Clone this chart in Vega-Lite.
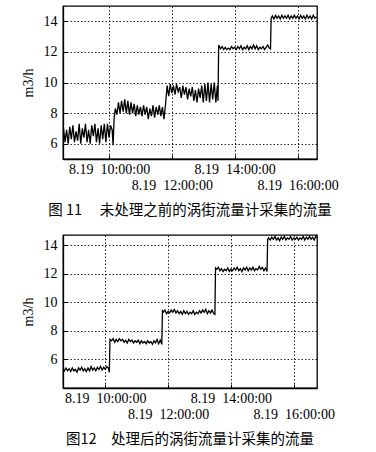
{
  "$schema": "https://vega.github.io/schema/vega-lite/v6.json",
  "background": "white",
  "padding": {"left": 20, "top": 5, "right": 5, "bottom": 5},
  "spacing": 15,
  "datasets": {
    "raw": [
      {"t": 8.54, "v": 7.2}, {"t": 8.6, "v": 6.1}, {"t": 8.65, "v": 6.9}, {"t": 8.7, "v": 6.0}, {"t": 8.75, "v": 7.1}, {"t": 8.8, "v": 6.3}, {"t": 8.85, "v": 7.2}, {"t": 8.9, "v": 6.1}, {"t": 8.95, "v": 6.8}, {"t": 9.0, "v": 6.2}, {"t": 9.05, "v": 7.3}, {"t": 9.1, "v": 6.0}, {"t": 9.15, "v": 7.0}, {"t": 9.2, "v": 6.4}, {"t": 9.25, "v": 7.3}, {"t": 9.3, "v": 6.1}, {"t": 9.35, "v": 6.9}, {"t": 9.4, "v": 6.0}, {"t": 9.45, "v": 7.2}, {"t": 9.5, "v": 6.5}, {"t": 9.55, "v": 7.3}, {"t": 9.6, "v": 6.1}, {"t": 9.65, "v": 7.0}, {"t": 9.7, "v": 6.0}, {"t": 9.75, "v": 7.2}, {"t": 9.8, "v": 6.3}, {"t": 9.85, "v": 7.3}, {"t": 9.9, "v": 6.1}, {"t": 9.95, "v": 7.3}, {"t": 10.0, "v": 6.4}, {"t": 10.05, "v": 7.2}, {"t": 10.1, "v": 6.9}, {"t": 10.13, "v": 5.9}, {"t": 10.16, "v": 7.6},
      {"t": 10.2, "v": 8.3}, {"t": 10.25, "v": 7.9}, {"t": 10.3, "v": 8.7}, {"t": 10.35, "v": 8.0}, {"t": 10.4, "v": 8.8}, {"t": 10.45, "v": 8.1}, {"t": 10.5, "v": 8.9}, {"t": 10.55, "v": 8.0}, {"t": 10.6, "v": 8.8}, {"t": 10.65, "v": 7.9}, {"t": 10.7, "v": 8.7}, {"t": 10.75, "v": 8.0}, {"t": 10.8, "v": 8.6}, {"t": 10.85, "v": 7.8}, {"t": 10.9, "v": 8.5}, {"t": 10.95, "v": 7.9}, {"t": 11.0, "v": 8.4}, {"t": 11.05, "v": 7.8}, {"t": 11.1, "v": 8.5}, {"t": 11.15, "v": 7.9}, {"t": 11.2, "v": 8.4}, {"t": 11.25, "v": 7.6}, {"t": 11.3, "v": 8.3}, {"t": 11.35, "v": 7.8}, {"t": 11.4, "v": 8.5}, {"t": 11.45, "v": 7.7}, {"t": 11.5, "v": 8.4}, {"t": 11.55, "v": 7.9}, {"t": 11.6, "v": 8.5}, {"t": 11.65, "v": 7.8}, {"t": 11.7, "v": 8.4}, {"t": 11.75, "v": 7.6}, {"t": 11.8, "v": 8.6},
      {"t": 11.85, "v": 9.8}, {"t": 11.9, "v": 9.1}, {"t": 11.95, "v": 9.9}, {"t": 12.0, "v": 9.3}, {"t": 12.05, "v": 9.8}, {"t": 12.1, "v": 9.2}, {"t": 12.15, "v": 9.9}, {"t": 12.2, "v": 9.4}, {"t": 12.25, "v": 9.7}, {"t": 12.3, "v": 9.0}, {"t": 12.35, "v": 9.8}, {"t": 12.4, "v": 9.2}, {"t": 12.45, "v": 9.7}, {"t": 12.5, "v": 8.9}, {"t": 12.55, "v": 9.6}, {"t": 12.6, "v": 9.1}, {"t": 12.65, "v": 9.7}, {"t": 12.7, "v": 8.8}, {"t": 12.75, "v": 9.5}, {"t": 12.8, "v": 8.7}, {"t": 12.85, "v": 9.6}, {"t": 12.9, "v": 9.0}, {"t": 12.95, "v": 9.8}, {"t": 13.0, "v": 8.7}, {"t": 13.05, "v": 9.9}, {"t": 13.1, "v": 8.8}, {"t": 13.15, "v": 10.0}, {"t": 13.2, "v": 8.7}, {"t": 13.25, "v": 9.9}, {"t": 13.3, "v": 8.9}, {"t": 13.35, "v": 10.0}, {"t": 13.4, "v": 8.7}, {"t": 13.45, "v": 9.8}, {"t": 13.47, "v": 8.8},
      {"t": 13.49, "v": 12.45}, {"t": 13.55, "v": 12.2}, {"t": 13.6, "v": 12.35}, {"t": 13.65, "v": 12.15}, {"t": 13.7, "v": 12.3}, {"t": 13.75, "v": 12.15}, {"t": 13.8, "v": 12.25}, {"t": 13.85, "v": 12.15}, {"t": 13.9, "v": 12.35}, {"t": 13.95, "v": 12.2}, {"t": 14.0, "v": 12.3}, {"t": 14.05, "v": 12.15}, {"t": 14.1, "v": 12.35}, {"t": 14.15, "v": 12.2}, {"t": 14.2, "v": 12.4}, {"t": 14.25, "v": 12.15}, {"t": 14.3, "v": 12.3}, {"t": 14.35, "v": 12.2}, {"t": 14.4, "v": 12.4}, {"t": 14.45, "v": 12.15}, {"t": 14.5, "v": 12.35}, {"t": 14.55, "v": 12.2}, {"t": 14.6, "v": 12.45}, {"t": 14.65, "v": 12.2}, {"t": 14.7, "v": 12.4}, {"t": 14.75, "v": 12.15}, {"t": 14.8, "v": 12.3}, {"t": 14.85, "v": 12.2}, {"t": 14.9, "v": 12.35}, {"t": 14.95, "v": 12.15}, {"t": 15.0, "v": 12.3}, {"t": 15.05, "v": 12.45}, {"t": 15.1, "v": 12.25}, {"t": 15.14, "v": 12.2},
      {"t": 15.16, "v": 14.2}, {"t": 15.2, "v": 14.35}, {"t": 15.25, "v": 14.15}, {"t": 15.3, "v": 14.4}, {"t": 15.35, "v": 14.2}, {"t": 15.4, "v": 14.35}, {"t": 15.45, "v": 14.15}, {"t": 15.5, "v": 14.4}, {"t": 15.55, "v": 14.2}, {"t": 15.6, "v": 14.35}, {"t": 15.65, "v": 14.2}, {"t": 15.7, "v": 14.4}, {"t": 15.75, "v": 14.15}, {"t": 15.8, "v": 14.35}, {"t": 15.85, "v": 14.2}, {"t": 15.9, "v": 14.4}, {"t": 15.95, "v": 14.2}, {"t": 16.0, "v": 14.35}, {"t": 16.05, "v": 14.15}, {"t": 16.1, "v": 14.4}, {"t": 16.15, "v": 14.2}, {"t": 16.2, "v": 14.35}, {"t": 16.25, "v": 14.15}, {"t": 16.3, "v": 14.4}, {"t": 16.35, "v": 14.2}, {"t": 16.4, "v": 14.35}, {"t": 16.45, "v": 14.15}, {"t": 16.5, "v": 14.4}, {"t": 16.55, "v": 14.2}, {"t": 16.61, "v": 14.3}
    ],
    "processed": [
      {"t": 8.67, "v": 5.3}, {"t": 8.7, "v": 5.2}, {"t": 8.75, "v": 5.4}, {"t": 8.8, "v": 5.2}, {"t": 8.85, "v": 5.35}, {"t": 8.9, "v": 5.15}, {"t": 8.95, "v": 5.4}, {"t": 9.0, "v": 5.2}, {"t": 9.05, "v": 5.3}, {"t": 9.1, "v": 5.1}, {"t": 9.15, "v": 5.4}, {"t": 9.2, "v": 5.25}, {"t": 9.25, "v": 5.45}, {"t": 9.3, "v": 5.2}, {"t": 9.35, "v": 5.35}, {"t": 9.4, "v": 5.15}, {"t": 9.45, "v": 5.4}, {"t": 9.5, "v": 5.2}, {"t": 9.55, "v": 5.5}, {"t": 9.6, "v": 5.25}, {"t": 9.65, "v": 5.4}, {"t": 9.7, "v": 5.2}, {"t": 9.75, "v": 5.45}, {"t": 9.8, "v": 5.3}, {"t": 9.85, "v": 5.5}, {"t": 9.9, "v": 5.25}, {"t": 9.95, "v": 5.45}, {"t": 10.0, "v": 5.3}, {"t": 10.05, "v": 5.5}, {"t": 10.1, "v": 5.4}, {"t": 10.13, "v": 5.1},
      {"t": 10.15, "v": 7.4}, {"t": 10.2, "v": 7.3}, {"t": 10.25, "v": 7.45}, {"t": 10.3, "v": 7.2}, {"t": 10.35, "v": 7.4}, {"t": 10.4, "v": 7.25}, {"t": 10.45, "v": 7.45}, {"t": 10.5, "v": 7.3}, {"t": 10.55, "v": 7.4}, {"t": 10.6, "v": 7.2}, {"t": 10.65, "v": 7.35}, {"t": 10.7, "v": 7.15}, {"t": 10.75, "v": 7.4}, {"t": 10.8, "v": 7.25}, {"t": 10.85, "v": 7.35}, {"t": 10.9, "v": 7.15}, {"t": 10.95, "v": 7.3}, {"t": 11.0, "v": 7.2}, {"t": 11.05, "v": 7.35}, {"t": 11.1, "v": 7.1}, {"t": 11.15, "v": 7.3}, {"t": 11.2, "v": 7.15}, {"t": 11.25, "v": 7.25}, {"t": 11.3, "v": 7.1}, {"t": 11.35, "v": 7.3}, {"t": 11.4, "v": 7.15}, {"t": 11.45, "v": 7.25}, {"t": 11.5, "v": 7.05}, {"t": 11.55, "v": 7.3}, {"t": 11.6, "v": 7.15}, {"t": 11.65, "v": 7.4}, {"t": 11.7, "v": 7.1}, {"t": 11.75, "v": 7.35}, {"t": 11.8, "v": 7.05},
      {"t": 11.82, "v": 9.4}, {"t": 11.85, "v": 9.3}, {"t": 11.9, "v": 9.45}, {"t": 11.95, "v": 9.2}, {"t": 12.0, "v": 9.35}, {"t": 12.05, "v": 9.25}, {"t": 12.1, "v": 9.45}, {"t": 12.15, "v": 9.3}, {"t": 12.2, "v": 9.5}, {"t": 12.25, "v": 9.25}, {"t": 12.3, "v": 9.4}, {"t": 12.35, "v": 9.2}, {"t": 12.4, "v": 9.35}, {"t": 12.45, "v": 9.15}, {"t": 12.5, "v": 9.4}, {"t": 12.55, "v": 9.2}, {"t": 12.6, "v": 9.35}, {"t": 12.65, "v": 9.15}, {"t": 12.7, "v": 9.3}, {"t": 12.75, "v": 9.2}, {"t": 12.8, "v": 9.4}, {"t": 12.85, "v": 9.15}, {"t": 12.9, "v": 9.3}, {"t": 12.95, "v": 9.2}, {"t": 13.0, "v": 9.4}, {"t": 13.05, "v": 9.25}, {"t": 13.1, "v": 9.45}, {"t": 13.15, "v": 9.3}, {"t": 13.2, "v": 9.5}, {"t": 13.25, "v": 9.2}, {"t": 13.3, "v": 9.4}, {"t": 13.35, "v": 9.25}, {"t": 13.4, "v": 9.45}, {"t": 13.45, "v": 9.2}, {"t": 13.49, "v": 9.15},
      {"t": 13.51, "v": 12.4}, {"t": 13.55, "v": 12.3}, {"t": 13.6, "v": 12.45}, {"t": 13.65, "v": 12.2}, {"t": 13.7, "v": 12.35}, {"t": 13.75, "v": 12.15}, {"t": 13.8, "v": 12.3}, {"t": 13.85, "v": 12.2}, {"t": 13.9, "v": 12.4}, {"t": 13.95, "v": 12.15}, {"t": 14.0, "v": 12.3}, {"t": 14.05, "v": 12.2}, {"t": 14.1, "v": 12.4}, {"t": 14.15, "v": 12.25}, {"t": 14.2, "v": 12.45}, {"t": 14.25, "v": 12.2}, {"t": 14.3, "v": 12.35}, {"t": 14.35, "v": 12.15}, {"t": 14.4, "v": 12.4}, {"t": 14.45, "v": 12.25}, {"t": 14.5, "v": 12.45}, {"t": 14.55, "v": 12.2}, {"t": 14.6, "v": 12.4}, {"t": 14.65, "v": 12.25}, {"t": 14.7, "v": 12.45}, {"t": 14.75, "v": 12.2}, {"t": 14.8, "v": 12.35}, {"t": 14.85, "v": 12.25}, {"t": 14.9, "v": 12.5}, {"t": 14.95, "v": 12.3}, {"t": 15.0, "v": 12.45}, {"t": 15.05, "v": 12.2}, {"t": 15.1, "v": 12.4}, {"t": 15.15, "v": 12.15},
      {"t": 15.17, "v": 14.4}, {"t": 15.2, "v": 14.5}, {"t": 15.25, "v": 14.35}, {"t": 15.3, "v": 14.55}, {"t": 15.35, "v": 14.4}, {"t": 15.4, "v": 14.6}, {"t": 15.45, "v": 14.35}, {"t": 15.5, "v": 14.5}, {"t": 15.55, "v": 14.3}, {"t": 15.6, "v": 14.55}, {"t": 15.65, "v": 14.4}, {"t": 15.7, "v": 14.6}, {"t": 15.75, "v": 14.35}, {"t": 15.8, "v": 14.5}, {"t": 15.85, "v": 14.4}, {"t": 15.9, "v": 14.6}, {"t": 15.95, "v": 14.35}, {"t": 16.0, "v": 14.5}, {"t": 16.05, "v": 14.4}, {"t": 16.1, "v": 14.55}, {"t": 16.15, "v": 14.35}, {"t": 16.2, "v": 14.5}, {"t": 16.25, "v": 14.4}, {"t": 16.3, "v": 14.6}, {"t": 16.35, "v": 14.35}, {"t": 16.4, "v": 14.55}, {"t": 16.45, "v": 14.4}, {"t": 16.5, "v": 14.6}, {"t": 16.55, "v": 14.4}, {"t": 16.6, "v": 14.55}, {"t": 16.65, "v": 14.35}, {"t": 16.7, "v": 14.6}, {"t": 16.73, "v": 14.5}
    ]
  },
  "vconcat": [
    {
      "width": 254,
      "height": 153,
      "data": {"name": "raw"},
      "title": {"text": "图 11\u3000\u00a0未处理之前的涡街流量计采集的流量", "orient": "bottom", "offset": 12},
      "mark": {"type": "line", "color": "black", "strokeWidth": 1.3, "clip": true},
      "encoding": {
        "x": {"field": "t", "type": "quantitative", "scale": {"domain": [8.535, 16.62], "nice": false, "zero": false},
              "axis": {"values": [10, 12, 14, 16], "title": null, "labelExpr": "datum.value % 4 == 2 ? ['8.19\u00a0\u00a0' + datum.value + ':00:00', ''] : ['', '8.19\u00a0\u00a0' + datum.value + ':00:00']"}},
        "y": {"field": "v", "type": "quantitative", "scale": {"domain": [5, 15], "nice": false, "zero": false},
              "axis": {"values": [6, 8, 10, 12, 14], "title": "m3/h"}}
      }
    },
    {
      "width": 254,
      "height": 153,
      "data": {"name": "processed"},
      "title": {"text": "图12\u3000处理后的涡街流量计采集的流量", "orient": "bottom", "offset": 12},
      "mark": {"type": "line", "color": "black", "strokeWidth": 1.3, "clip": true},
      "encoding": {
        "x": {"field": "t", "type": "quantitative", "scale": {"domain": [8.655, 16.74], "nice": false, "zero": false},
              "axis": {"values": [10, 12, 14, 16], "title": null, "labelExpr": "datum.value % 4 == 2 ? ['8.19\u00a0\u00a0' + datum.value + ':00:00', ''] : ['', '8.19\u00a0\u00a0' + datum.value + ':00:00']"}},
        "y": {"field": "v", "type": "quantitative", "scale": {"domain": [4, 14.7], "nice": false, "zero": false},
              "axis": {"values": [6, 8, 10, 12, 14], "title": "m3/h"}}
      }
    }
  ],
  "config": {
    "view": {"stroke": "black", "strokeWidth": 1.3},
    "axis": {
      "domainColor": "black",
      "domainWidth": 1.3,
      "tickColor": "black",
      "tickSize": -4,
      "grid": true,
      "gridColor": "black",
      "gridDash": [1.5, 2],
      "gridOpacity": 0.85,
      "labelFont": "Liberation Serif",
      "labelFontSize": 14,
      "labelColor": "black",
      "labelOverlap": false,
      "labelFlush": false,
      "labelBound": false,
      "labelLineHeight": 16,
      "titleFont": "Liberation Serif",
      "titleFontSize": 14,
      "titleFontWeight": "normal",
      "titleColor": "black"
    },
    "axisX": {"labelPadding": 7},
    "axisY": {"labelPadding": 10, "titlePadding": 8},
    "title": {"font": "Noto Sans CJK SC", "fontSize": 14.5, "fontWeight": "normal", "color": "black", "anchor": "middle"}
  }
}
